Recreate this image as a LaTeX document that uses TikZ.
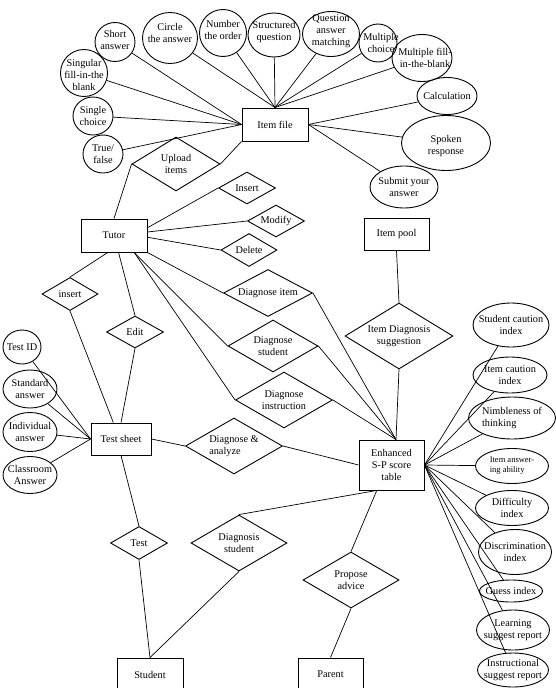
\documentclass[tikz,border=0pt]{standalone}
\usepackage{fontspec}
\setmainfont{Liberation Serif}
\usetikzlibrary{positioning,shapes.geometric}
\newcommand{\erfont}{\fontsize{10.3}{12}\selectfont}
\tikzset{
  entity/.style={
    rectangle, draw, line width=0.9pt, inner sep=0pt, align=center, font=\erfont
  },
  rel/.style={
    diamond, draw, line width=0.9pt, aspect=2, inner sep=0pt, align=center, font=\erfont
  },
  attr/.style={ellipse, draw, line width=0.9pt, inner sep=0pt},
  attrtext/.style={inner sep=0pt, align=center, font=\erfont},
  wh/.style 2 args={minimum width=#1pt, minimum height=#2pt},
  link/.style={line width=0.7pt}
}

\begin{document}
\begin{tikzpicture}[x=1pt,y=-1pt]
  \useasboundingbox (0,0) rectangle (556,688);
  \clip (0,0) rectangle (556,688);

  % entities
  \node[entity,wh={66}{33}] (itemfile) at (275,124.5) {Item file};
  \node[entity,wh={66}{33}] (tutor) at (114,235.5) {Tutor};
  \node[entity,wh={65}{32}] (pool) at (396.5,234) {Item pool};
  \node[entity,wh={60}{32}] (tsheet) at (121,439) {Test sheet};
  \node[entity,wh={65}{50}] (E) at (391.5,465) {Enhanced\\S-P score\\table};
  \node[entity,wh={66}{33}] (student) at (150,674.5) {Student};
  \node[entity,wh={65}{33}] (parent) at (330.5,674.5) {Parent};

  % item file attributes
  \node[attr,wh={40}{39},label={[attrtext,yshift=2pt]center:{Short\\answer}}] (sa) at (115,42) {};
  \node[attr,wh={55}{51},label={[attrtext,yshift=5pt]center:{Circle\\the answer}}] (cta) at (170,38) {};
  \node[attr,wh={47}{47},label={[attrtext,yshift=3pt]center:{Number\\the order}}] (nto) at (223,33) {};
  \node[attr,wh={52}{44},label={[attrtext,yshift=3pt]center:{Structured\\question}}] (sq) at (274,35) {};
  \node[attr,wh={57}{45},label={[attrtext,yshift=3pt]center:{Question\\answer\\matching}}] (qam) at (331,34) {};
  \node[attr,wh={38}{38},label={[attrtext,xshift=3pt]center:{Multiple\\choice}}] (mc) at (378,43) {};
  \node[attr,wh={60}{47},label={[attrtext,xshift=3pt]center:{Multiple fill-\\in-the-blank}}] (mfb) at (422,58) {};
  \node[attr,wh={60}{37},label={[attrtext]center:{Calculation}}] (calc) at (447,96) {};
  \node[attr,wh={89}{55},label={[attrtext,yshift=-3pt]center:{Spoken\\response}}] (spk) at (446,143) {};
  \node[attr,wh={68}{42},label={[attrtext]center:{Submit your\\answer}}] (sub) at (404,187) {};
  \node[attr,wh={47}{47},label={[attrtext,yshift=-2pt]center:{Singular\\fill-in-the\\blank}}] (sfb) at (84,73) {};
  \node[attr,wh={40}{38},label={[attrtext]center:{Single\\choice}}] (sc) at (93,116) {};
  \node[attr,wh={40}{38},label={[attrtext]center:{True/\\false}}] (tf) at (103,154) {};

  % tutor relations
  \node[rel,wh={88}{54}] (upload) at (176,164) {Upload\\items};
  \node[rel,wh={57}{32}] (insert) at (247,188) {Insert};
  \node[rel,wh={57}{32}] (modify) at (276,221) {Modify};
  \node[rel,wh={56}{33}] (delete) at (249,250) {Delete};
  \node[rel,wh={89}{47}] (ditem) at (268,293) {Diagnose item};
  \node[rel,wh={90}{52}] (dstud) at (273,346) {Diagnose\\student};
  \node[rel,wh={97}{56}] (dinst) at (284,400) {Diagnose\\instruction};
  \node[rel,wh={56}{33}] (tinsert) at (70,294) {insert};
  \node[rel,wh={57}{32}] (edit) at (135,332) {Edit};
  \node[rel,wh={108}{66}] (sugg) at (399,336) {Item Diagnosis\\suggestion};
  \node[rel,wh={97}{56},align=left] (danal) at (234,446) {Diagnose \&\\analyze};
  \node[rel,wh={57}{33}] (test) at (139,543) {Test};
  \node[rel,wh={96}{56}] (dgs) at (239,543) {Diagnosis\\student};
  \node[rel,wh={96}{56}] (prop) at (351,580) {Propose\\advice};

  % test sheet attributes
  \node[attr,wh={38}{34},label={[attrtext]center:{Test ID}}] (tid) at (22,347) {};
  \node[attr,wh={54}{38},label={[attrtext]center:{Standard\\answer}}] (std) at (30,389) {};
  \node[attr,wh={54}{39},label={[attrtext]center:{Individual\\answer}}] (ind) at (30,432) {};
  \node[attr,wh={54}{37},label={[attrtext]center:{Classroom\\Answer}}] (cla) at (30,475) {};

  % score table attributes
  \node[attr,wh={76}{44},label={[attrtext]center:{Student caution\\index}}] (sci) at (511,325) {};
  \node[attr,wh={74}{36},label={[attrtext]center:{Item caution\\index}}] (ici) at (510,375) {};
  \node[attr,wh={87}{42},label={[attrtext,align=left]center:{Nimbleness of\\thinking}}] (nim) at (512,418) {};
  \node[attr,wh={73}{35},label={[attrtext,align=left,font=\fontsize{8.5}{10}\selectfont]center:{Item answer-\\ing ability}}] (iaa) at (512,466) {};
  \node[attr,wh={73}{35},label={[attrtext]center:{Difficulty\\index}}] (dif) at (512,508) {};
  \node[attr,wh={73}{45},label={[attrtext]center:{Discrimination\\index}}] (dis) at (515,552) {};
  \node[attr,wh={63}{22},label={[attrtext]center:{Guess index}}] (gi) at (511,591) {};
  \node[attr,wh={73}{40},label={[attrtext]center:{Learning\\suggest report}}] (lsr) at (513,630) {};
  \node[attr,wh={71}{34},label={[attrtext]center:{Instructional\\suggest report}}] (isr) at (513,670) {};

  % connectors
  \foreach \a in {sa,sfb,sc,tf} \draw[link] (\a) -- (itemfile.west);
  \foreach \a in {cta,nto,sq,qam,mc,mfb} \draw[link] (\a) -- (itemfile.north);
  \foreach \a in {calc,spk,sub} \draw[link] (itemfile.east) -- (\a);

  \draw[link] (tutor.north) -- (upload.west);
  \draw[link] (upload.east) -- (itemfile.south west);
  \draw[link] (tutor.13) -- (insert.west);
  \draw[link] (tutor.6) -- (modify.west);
  \draw[link] (tutor.-3) -- (delete.west);
  \draw[link] (tutor.south east) -- (ditem.west);
  \draw[link] (tutor.-40) -- (dstud.west);
  \draw[link] (tutor.-40) -- (dinst.west);
  \foreach \d in {ditem,dstud,dinst} \draw[link] (\d.east) -- (E.80);
  \draw[link] (tutor.-110) -- (tinsert.north);
  \draw[link] (tinsert.south) -- (tsheet.115);
  \draw[link] (tutor.-75) -- (edit.north);
  \draw[link] (edit.south) -- (tsheet.north);

  \draw[link] (pool.south) -- (sugg.north);
  \draw[link] (sugg.south) -- (E.80);

  \foreach \a in {tid,std,ind,cla} \draw[link] (\a) -- (tsheet.west);
  \draw[link] (tsheet.east) -- (danal.west);
  \draw[link] (danal.east) -- (E.west);
  \foreach \a in {sci,ici,nim,iaa,dif,dis,gi,lsr,isr} \draw[link] (E.east) -- (\a);

  \draw[link] (tsheet.south) -- (test.north);
  \draw[link] (test.south) -- (student.north);
  \draw[link] (E.-120) -- (dgs.north);
  \draw[link] (dgs.south) -- (student.north);
  \draw[link] (E.-120) -- (prop.north);
  \draw[link] (prop.south) -- (parent.north);
\end{tikzpicture}
\end{document}
